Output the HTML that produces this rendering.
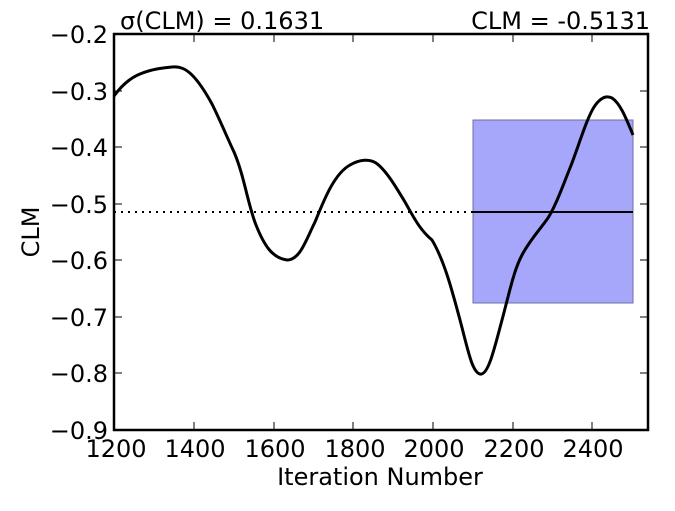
<!DOCTYPE html>
<html><head><meta charset="utf-8"><style>
html,body{margin:0;padding:0;background:#fff}
svg{display:block}
text{font-family:"DejaVu Sans","Liberation Sans",sans-serif;font-size:24px;fill:#000}
</style></head><body>
<svg width="675" height="511" viewBox="0 0 675 511" xmlns="http://www.w3.org/2000/svg">
<rect x="473" y="120" width="160" height="183" fill="#a6a6fb" stroke="#6f6fa8" stroke-width="1"/>
<line x1="114" y1="212" x2="473" y2="212" stroke="#000" stroke-width="2" stroke-dasharray="2,5"/>
<line x1="473" y1="212" x2="633" y2="212" stroke="#000" stroke-width="2"/>
<path d="M114,96 C122,85 130,78 140,74 C152,69 162,68 172,67 C180,66 186,69 192,75 C200,83 206,93 212,104 C220,120 226,135 234,152 C244,175 248,205 256,225 C264,245 272,258 287,260 C300,260 306,240 315,222 C324,200 334,174 350,165 C360,159 370,159 376,163 C386,170 396,187 405,202 C414,218 420,230 432,240 C444,260 452,290 460,320 C468,350 472,372 480,374 C488,376 494,350 502,320 C510,290 514,270 522,255 C530,240 538,232 548,218 C556,205 562,188 570,168 C578,148 586,120 594,107 C600,98 606,95 612,98 C620,103 626,118 633,135" fill="none" stroke="#000" stroke-width="3" stroke-linejoin="round"/>
<rect x="114" y="34" width="534" height="396" fill="none" stroke="#000" stroke-width="2.5"/>
<g stroke="#000" stroke-width="1">
<line x1="194" y1="430" x2="194" y2="422"/><line x1="194" y1="34" x2="194" y2="42"/>
<line x1="274" y1="430" x2="274" y2="422"/><line x1="274" y1="34" x2="274" y2="42"/>
<line x1="353" y1="430" x2="353" y2="422"/><line x1="353" y1="34" x2="353" y2="42"/>
<line x1="433" y1="430" x2="433" y2="422"/><line x1="433" y1="34" x2="433" y2="42"/>
<line x1="513" y1="430" x2="513" y2="422"/><line x1="513" y1="34" x2="513" y2="42"/>
<line x1="592" y1="430" x2="592" y2="422"/><line x1="592" y1="34" x2="592" y2="42"/>
<line x1="114" y1="91" x2="122" y2="91"/><line x1="648" y1="91" x2="640" y2="91"/>
<line x1="114" y1="147" x2="122" y2="147"/><line x1="648" y1="147" x2="640" y2="147"/>
<line x1="114" y1="204" x2="122" y2="204"/><line x1="648" y1="204" x2="640" y2="204"/>
<line x1="114" y1="260" x2="122" y2="260"/><line x1="648" y1="260" x2="640" y2="260"/>
<line x1="114" y1="317" x2="122" y2="317"/><line x1="648" y1="317" x2="640" y2="317"/>
<line x1="114" y1="373" x2="122" y2="373"/><line x1="648" y1="373" x2="640" y2="373"/>
</g>
<g text-anchor="end">
<text x="108" y="43">−0.2</text><text x="108" y="100">−0.3</text><text x="108" y="156">−0.4</text>
<text x="108" y="213">−0.5</text><text x="108" y="269">−0.6</text><text x="108" y="326">−0.7</text>
<text x="108" y="382">−0.8</text><text x="108" y="439">−0.9</text>
</g>
<g text-anchor="middle">
<text x="116" y="457">1200</text><text x="195" y="457">1400</text><text x="275" y="457">1600</text>
<text x="355" y="457">1800</text><text x="434" y="457">2000</text><text x="514" y="457">2200</text>
<text x="593" y="457">2400</text>
<text x="380" y="485">Iteration Number</text>
<text transform="translate(39,232) rotate(-90)">CLM</text>
</g>
<text x="120" y="29">σ(CLM) = 0.1631</text>
<text x="650" y="29" text-anchor="end">CLM = -0.5131</text>
</svg>
</body></html>
